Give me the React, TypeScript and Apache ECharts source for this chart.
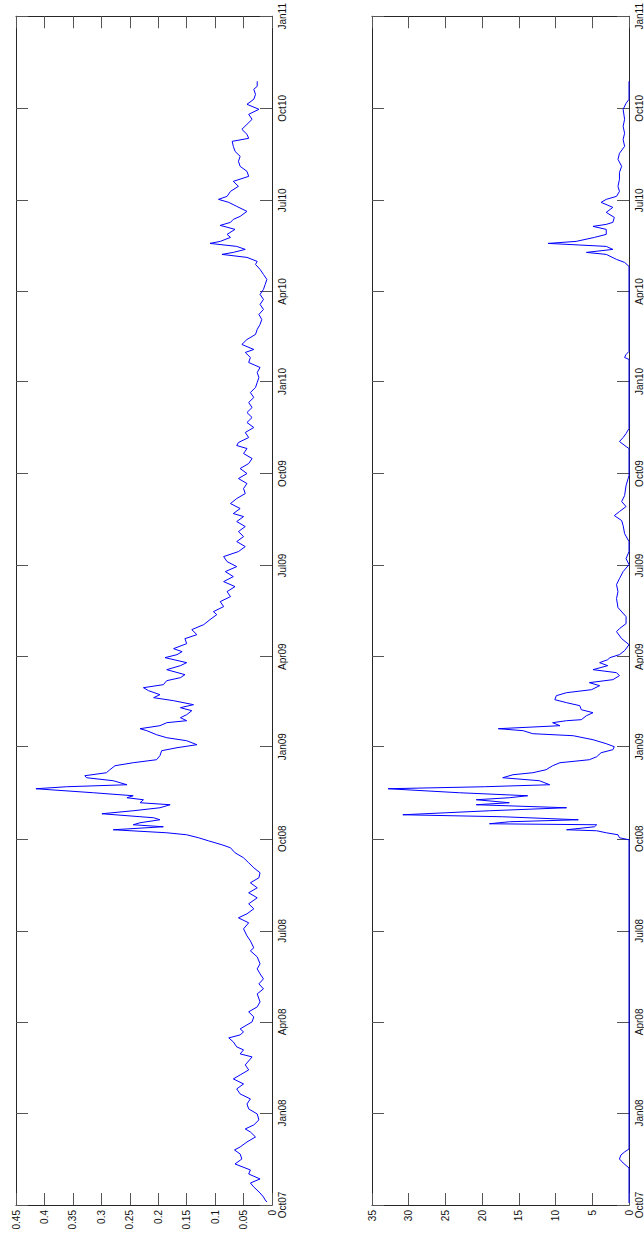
import React, { useEffect, useRef } from "react";
import * as echarts from "echarts";

// Quarter ticks (days since 1 Oct 2007)
const quarterDays = [0, 92, 183, 274, 366, 458, 548, 639, 731, 823, 913, 1004, 1096, 1188];
const quarterLabels = ["Oct07", "Jan08", "Apr08", "Jul08", "Oct08", "Jan09", "Apr09", "Jul09", "Oct09", "Jan10", "Apr10", "Jul10", "Oct10", "Jan11"];

// Left panel series
const leftDays = [3, 5, 8, 12, 18, 22, 26, 31, 35, 41, 46, 51, 55, 58, 63, 68, 73, 76, 80, 85, 91, 96, 101, 106, 111, 116, 121, 126, 130, 135, 140, 148, 151, 155, 158, 163, 167, 170, 173, 176, 183, 188, 193, 198, 203, 211, 216, 221, 226, 231, 236, 241, 248, 254,
  257, 264, 269, 276, 282, 287, 291, 296, 301, 307, 312, 317, 322, 327, 332, 337, 342, 347, 352, 357, 360, 364, 367, 370, 372, 375, 378, 380, 382, 385, 387, 391, 394, 397, 400, 402, 405, 407, 409, 412, 415, 416, 418, 420, 424, 427, 429, 432, 435, 439, 442, 445, 449, 454, 457, 460, 464, 467, 470, 474, 476, 479, 482, 484, 487, 490, 494, 497, 500, 504, 507, 510, 514, 517, 520, 524, 527, 530, 535, 539, 542, 547, 550, 553,
  556, 561, 566, 570, 575, 580, 585, 590, 593, 598, 603, 608, 613, 618, 623, 628, 633, 638, 643, 648, 653, 658, 663, 668, 673, 678, 683, 688, 691, 696, 701, 706, 711, 716, 721, 726, 731, 736, 741, 746, 751, 756, 759, 762, 767, 772, 777, 782, 787, 792, 797, 802, 807, 812, 817, 822, 827, 832, 837, 842, 847, 852,
  855, 860, 865, 870, 875, 880, 885, 890, 895, 900, 905, 910, 915, 920, 925, 930, 935, 940, 943, 947, 950, 952, 955, 958, 961, 963, 967, 970, 975, 979, 982, 985, 988, 993, 998, 1002, 1005, 1008, 1013, 1018, 1023, 1028, 1033, 1038, 1043, 1048, 1053, 1058, 1063, 1066, 1070, 1075, 1080, 1085, 1090, 1095, 1100, 1105, 1110, 1115, 1118, 1123];
const leftValues = [0.009, 0.012, 0.015, 0.021, 0.032, 0.038, 0.021, 0.041, 0.038, 0.065, 0.053, 0.056, 0.066, 0.056, 0.044, 0.029, 0.038, 0.047, 0.032, 0.023, 0.026, 0.041, 0.044, 0.038, 0.056, 0.062, 0.050, 0.068, 0.056, 0.041, 0.047, 0.035, 0.056, 0.050, 0.062, 0.068, 0.076, 0.056, 0.050, 0.056, 0.035, 0.032, 0.041, 0.026, 0.021, 0.026, 0.015, 0.023, 0.015, 0.021, 0.026, 0.021, 0.026, 0.038,
  0.032, 0.038, 0.044, 0.050, 0.041, 0.059, 0.044, 0.032, 0.041, 0.026, 0.041, 0.026, 0.038, 0.023, 0.021, 0.032, 0.041, 0.050, 0.065, 0.073, 0.088, 0.112, 0.129, 0.150, 0.185, 0.279, 0.191, 0.244, 0.232, 0.197, 0.208, 0.299, 0.244, 0.197, 0.179, 0.232, 0.226, 0.255, 0.244, 0.314, 0.390, 0.415, 0.361, 0.255, 0.279, 0.326, 0.329, 0.291, 0.285, 0.276, 0.244, 0.203, 0.197, 0.194, 0.167, 0.132, 0.150, 0.185, 0.203, 0.220, 0.232, 0.197, 0.185, 0.150, 0.161, 0.150, 0.141, 0.161, 0.138, 0.173, 0.208, 0.197, 0.217, 0.226, 0.191, 0.185, 0.161, 0.153, 0.185, 0.161, 0.150, 0.188, 0.167, 0.158,
  0.173, 0.150, 0.153, 0.132, 0.141, 0.120, 0.109, 0.097, 0.103, 0.085, 0.091, 0.073, 0.079, 0.065, 0.085, 0.068, 0.082, 0.062, 0.079, 0.085, 0.059, 0.047, 0.062, 0.050, 0.059, 0.047, 0.062, 0.050, 0.068, 0.056, 0.073, 0.062, 0.047, 0.050, 0.044, 0.059, 0.044, 0.056, 0.041, 0.035, 0.050, 0.044, 0.062, 0.059, 0.041, 0.047, 0.032, 0.044, 0.035, 0.044, 0.035, 0.041, 0.032, 0.038, 0.029, 0.026, 0.023, 0.026, 0.021, 0.041, 0.038, 0.047,
  0.032, 0.053, 0.044, 0.029, 0.026, 0.021, 0.018, 0.023, 0.015, 0.021, 0.015, 0.021, 0.015, 0.012, 0.009, 0.015, 0.021, 0.029, 0.026, 0.044, 0.088, 0.068, 0.047, 0.062, 0.109, 0.091, 0.073, 0.079, 0.065, 0.091, 0.073, 0.068, 0.056, 0.044, 0.062, 0.076, 0.094, 0.079, 0.073, 0.059, 0.068, 0.041, 0.044, 0.056, 0.059, 0.056, 0.065, 0.068, 0.070, 0.041, 0.044, 0.053, 0.044, 0.035, 0.041, 0.023, 0.044, 0.032, 0.029, 0.032, 0.026, 0.026];

// Right panel series
const rightDays = [2, 37, 42, 46, 50, 53, 56, 365, 367, 370, 372, 374, 375, 378, 380, 381, 383, 385, 388, 390, 392, 394, 397, 400, 402, 405, 407, 409, 412, 416, 418, 420, 424, 427, 430, 432, 435, 439, 442, 445, 448, 452, 455, 458, 461, 465, 469, 471, 474, 476, 479, 482, 484, 485, 489, 492, 495, 499, 502, 505, 509, 512, 515, 519, 522, 525, 529, 532, 535, 539, 542, 545, 547, 550, 554, 560, 566, 573, 576, 581, 588, 597, 606, 613, 620, 626, 633, 640, 646, 653, 663, 671, 679, 684, 689, 693, 698, 703, 709, 719, 729, 756, 758, 763, 767, 771, 776, 845, 847, 850, 853, 938, 942, 945, 950, 952, 955, 958, 961, 963, 967, 970, 975, 978, 980, 982, 987, 992, 997, 1002, 1005, 1008, 1013, 1018, 1025, 1032, 1038, 1045, 1051, 1058, 1065, 1071, 1078, 1085, 1095, 1101, 1105, 1123];
const rightValues = [0, 0, 0.8, 1.3, 1.1, 0.6, 0, 0, 1.3, 1.5, 3.1, 4.4, 8.5, 4.7, 4.4, 19.0, 16.3, 6.9, 17.2, 30.8, 24.9, 19.0, 8.5, 20.8, 16.3, 20.8, 16.3, 13.8, 23.1, 32.8, 19.7, 10.8, 12.2, 17.2, 15.8, 13.1, 11.3, 10.4, 9.4, 5.4, 4.4, 3.8, 2.2, 2.0, 3.1, 4.9, 7.6, 13.1, 14.4, 17.8, 9.4, 10.4, 8.5, 6.5, 5.8, 4.9, 6.5, 6.7, 8.5, 10.1, 9.9, 8.5, 5.1, 4.0, 5.4, 2.2, 1.3, 1.7, 4.9, 2.9, 4.0, 2.9, 2.6, 1.3, 0.6, 0, 1.0, 1.7, 1.3, 0.4, 0.4, 1.5, 1.7, 1.5, 1.7, 1.3, 0.8, 0, 0.4, 0, 0, 0.6, 0.8, 1.0, 2.0, 1.3, 0.4, 1.0, 0.6, 0.4, 0, 0, 0.4, 1.3, 0.8, 0.4, 0, 0, 0.6, 0.4, 0, 0, 0.6, 1.7, 3.1, 5.8, 2.2, 3.1, 11.0, 7.2, 4.7, 3.1, 3.1, 4.9, 3.1, 2.2, 2.0, 3.1, 2.2, 3.8, 3.1, 1.7, 1.3, 1.5, 1.3, 1.3, 1.0, 1.5, 1.3, 0.6, 0.8, 0.6, 0.8, 0.6, 0.8, 0.4, 0, 0];

const FONT = "'Liberation Sans', Arial, Helvetica, sans-serif";
const AXIS_COLOR = "#262626";
const TICK_COLOR = "#555555";

function valueAxes(gridIndex: number, max: number, interval: number) {
  const base = {
    type: "value" as const,
    gridIndex,
    inverse: true,
    min: 0,
    max,
    interval,
    splitLine: { show: false },
    axisLine: { show: true, onZero: false, lineStyle: { color: AXIS_COLOR, width: 1 } },
    axisTick: { show: true, inside: true, length: 12, lineStyle: { color: TICK_COLOR, width: 1 } },
  };
  return [
    {
      ...base,
      position: "bottom" as const,
      axisLabel: { show: true, rotate: 90, fontSize: 10, color: "#111", fontFamily: FONT, margin: 5, showMinLabel: true, showMaxLabel: true },
    },
    { ...base, position: "top" as const, axisLabel: { show: false } },
  ];
}

function timeAxes(gridIndex: number) {
  const base = {
    type: "value" as const,
    gridIndex,
    min: 0,
    max: quarterDays[quarterDays.length - 1],
    splitLine: { show: false },
    axisLine: { show: true, onZero: false, lineStyle: { color: AXIS_COLOR, width: 1 } },
    axisTick: { show: true, inside: true, length: 12, customValues: quarterDays, lineStyle: { color: TICK_COLOR, width: 1 } },
  };
  return [
    {
      ...base,
      position: "right" as const,
      axisLabel: {
        show: true,
        rotate: 90,
        fontSize: 10,
        color: "#111",
        fontFamily: FONT,
        margin: 5,
        customValues: quarterDays,
        formatter: (v: number) => {
          const i = quarterDays.indexOf(Math.round(v));
          return i >= 0 ? quarterLabels[i] : "";
        },
      },
    },
    { ...base, position: "left" as const, axisLabel: { show: false } },
  ];
}

export default function App() {
  const ref = useRef<HTMLDivElement>(null);
  useEffect(() => {
    if (!ref.current) return;
    const chart = echarts.init(ref.current, null, { renderer: "svg" });
    const leftData = leftDays.map((d, i) => [leftValues[i], d]);
    const rightData = rightDays.map((d, i) => [rightValues[i], d]);
    chart.setOption({
      animation: false,
      backgroundColor: "#ffffff",
      grid: [
        { left: 16, right: 372, top: 13, bottom: 34, containLabel: false },
        { left: 372, right: 15, top: 13, bottom: 34, containLabel: false },
      ],
      xAxis: [...valueAxes(0, 0.45, 0.05), ...valueAxes(1, 35, 5)],
      yAxis: [...timeAxes(0), ...timeAxes(1)],
      series: [
        {
          type: "line",
          xAxisIndex: 0,
          yAxisIndex: 0,
          data: leftData,
          showSymbol: false,
          lineStyle: { color: "#0000ff", width: 1 },
          clip: true,
        },
        {
          type: "line",
          xAxisIndex: 2,
          yAxisIndex: 2,
          data: rightData,
          showSymbol: false,
          lineStyle: { color: "#0000ff", width: 1 },
          clip: false,
        },
      ],
    });
    return () => chart.dispose();
  }, []);
  return (
    <div
      ref={ref}
      style={{ position: "absolute", left: 0, top: 0, width: 644, height: 1239, background: "#fff" }}
    />
  );
}
